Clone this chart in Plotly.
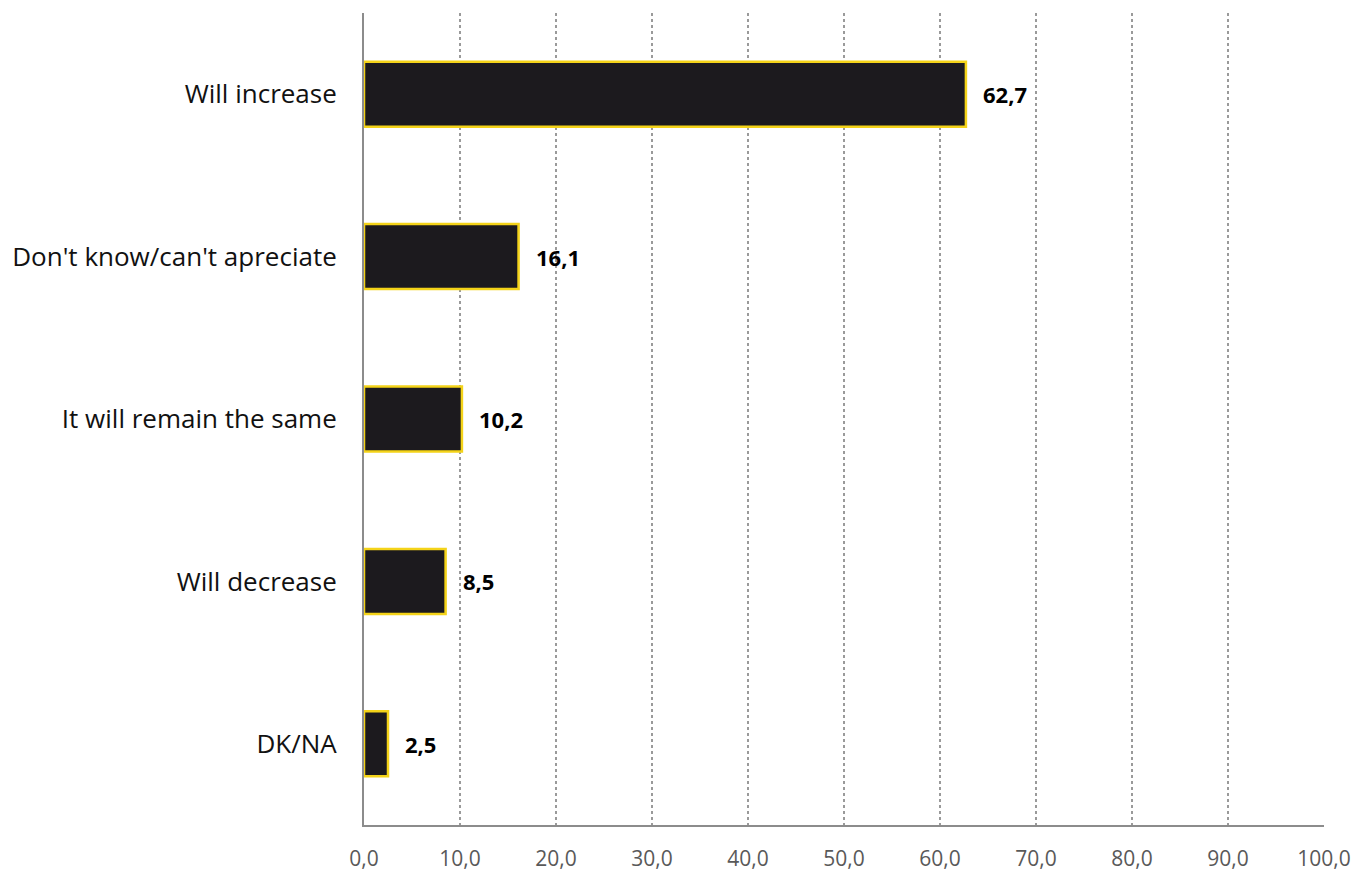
import plotly.graph_objects as go

categories = ["Will increase", "Don't know/can't apreciate", "It will remain the same",
              "Will decrease", "DK/NA"]
values = [62.7, 16.1, 10.2, 8.5, 2.5]
tick_values = [0, 10, 20, 30, 40, 50, 60, 70, 80, 90, 100]

fig = go.Figure()
fig.add_trace(go.Bar(
    y=categories,
    x=values,
    orientation="h",
    width=0.4,
    marker=dict(color="#1c1a1e", line=dict(color="#f4d319", width=2.5)),
    hoverinfo="skip",
))

# value labels to the right of each bar
for cat, val in zip(categories, values):
    fig.add_annotation(
        x=val, y=cat, text="<b>" + f"{val:.1f}".replace(".", ",") + "</b>",
        xanchor="left", xshift=15, showarrow=False,
        font=dict(family="Open Sans", size=22, color="#000000"),
    )

fig.update_layout(
    width=1355, height=872,
    margin=dict(l=364, r=31, t=13, b=47),
    paper_bgcolor="white", plot_bgcolor="white",
    separators=",.",
    showlegend=False,
    xaxis=dict(
        range=[0, 100],
        tickvals=tick_values,
        tickformat=".1f",
        showgrid=True, gridcolor="#9a9a9a", griddash="dot", gridwidth=1.5,
        showline=True, linecolor="#8c8c8c", linewidth=2,
        zeroline=False,
        ticks="", ticklen=0,
        ticklabelstandoff=14,
        tickfont=dict(family="Open Sans", size=21, color="#595959"),
        automargin=False,
        fixedrange=True,
    ),
    yaxis=dict(
        categoryorder="array", categoryarray=categories[::-1],
        showline=True, linecolor="#8c8c8c", linewidth=2,
        showgrid=False, ticks="", ticklen=0,
        ticklabelstandoff=20,
        tickfont=dict(family="Open Sans", size=26, color="#111111"),
        automargin=False,
        fixedrange=True,
    ),
)

fig.write_html("out.html")
